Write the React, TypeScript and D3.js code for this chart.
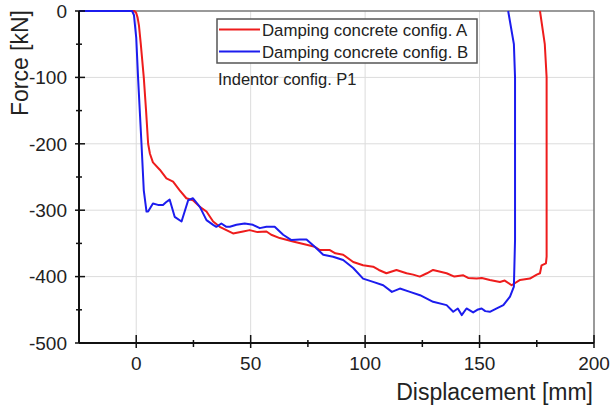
import React from "react";
import * as d3 from "d3";

const xTicks = [0, 50, 100, 150, 200];
const yTicks = [0, -100, -200, -300, -400, -500];
const xMinor = [-25, 25, 75, 125, 175];
const yMinor = [-50, -150, -250, -350, -450];

const seriesNames = ["Damping concrete config. A", "Damping concrete config. B"];

const dispA = [-25, -0.8, 0, 0.6, 1.2, 2, 3.3, 4.3, 5.2, 6, 7.3, 10.3, 13.2, 16.1, 19, 21.9, 24.8, 27.8, 30.7, 33.6, 36.5, 39.4, 42.3, 46.7, 49.6, 53, 56.9, 59, 62.7, 68.5, 74.4, 78, 80.2, 84.6, 87, 90.4, 94.8, 99.1, 103.5, 106, 109.3, 113.7, 118.1, 121, 123.9, 127, 129.7, 135.6, 139, 142.9, 145, 148.7, 151, 154.5, 158.9, 161, 164, 167.7, 172, 175, 176.4, 177.1, 179, 179.3, 179.3, 178.5, 176.4];
const forceA = [0, 0, -3, -10, -22, -50, -100, -150, -200, -215, -228, -239, -252, -257, -270, -282, -285, -295, -302, -317, -325, -330, -335, -332, -330, -333, -332, -337, -342, -347, -352, -355, -360, -360, -365, -367, -378, -383, -385, -390, -395, -390, -395, -397, -400, -395, -390, -395, -400, -398, -402, -403, -402, -405, -408, -406, -413, -405, -403, -397, -395, -383, -380, -370, -100, -50, 0];

const dispB = [-25, -1.8, -1, 0, 0.8, 2.3, 3.3, 4.5, 5.2, 7.3, 9.5, 11.7, 13, 14.6, 16.8, 19.8, 22.7, 24.8, 27.8, 30.7, 33.6, 35, 37.2, 39.4, 40.9, 43.8, 47.4, 51, 54, 56.9, 60.5, 64.2, 67.8, 71.5, 74.4, 78, 81.7, 86, 90.4, 94.8, 99.1, 103.5, 107.9, 111.7, 115.2, 119.6, 124, 129.7, 135.6, 138.5, 140.5, 142.2, 144.3, 147.2, 149, 150.9, 152.5, 154.5, 157.5, 160.4, 163.3, 165, 165.5, 165.5, 165, 162.5];
const forceB = [0, 0, -6, -40, -100, -200, -270, -302, -302, -290, -292, -292, -288, -284, -310, -317, -285, -282, -295, -315, -322, -325, -320, -325, -325, -322, -320, -322, -327, -325, -325, -337, -345, -344, -344, -355, -367, -370, -375, -387, -403, -408, -413, -423, -418, -423, -428, -438, -443, -453, -448, -458, -448, -454, -450, -448, -452, -453, -448, -443, -430, -415, -345, -100, -50, 0];

const colors = ["#ee1c1c", "#1c1cee"];

export default function App() {
  const W = 611, H = 409;
  const x = d3.scaleLinear().domain([-25, 200]).range([79, 594]);
  const y = d3.scaleLinear().domain([-500, 0]).range([343, 11]);
  const lineL = d3.line<[number, number]>().x(d => x(d[0])).y(d => y(d[1]));
  const A: [number, number][] = dispA.map((d, i) => [d, forceA[i]]);
  const B: [number, number][] = dispB.map((d, i) => [d, forceB[i]]);
  const font = "'Liberation Sans', Arial, sans-serif";
  const txt = "#222";
  return (
    <svg width={W} height={H} style={{ position: "absolute", left: 0, top: 0, background: "#fff" }} fontFamily={font}>
      <rect x={0} y={0} width={W} height={H} fill="#fff" />
      {xTicks.filter(t => t > -25 && t < 200).map(t => (
        <line key={"gx" + t} x1={x(t)} x2={x(t)} y1={y(0)} y2={y(-500)} stroke="#dcdcdc" strokeWidth={1} />
      ))}
      {yTicks.filter(t => t < 0 && t > -500).map(t => (
        <line key={"gy" + t} x1={x(-25)} x2={x(200)} y1={y(t)} y2={y(t)} stroke="#dcdcdc" strokeWidth={1} />
      ))}
      <line x1={x(-25)} x2={x(200)} y1={y(0)} y2={y(0)} stroke="#777" strokeWidth={1.5} />
      <line x1={x(200)} x2={x(200)} y1={y(0)} y2={y(-500)} stroke="#777" strokeWidth={1.5} />
      <path d={lineL(A) || ""} fill="none" stroke={colors[0]} strokeWidth={2} strokeLinejoin="round" />
      <path d={lineL(B) || ""} fill="none" stroke={colors[1]} strokeWidth={2} strokeLinejoin="round" />
      <line x1={x(-25)} x2={x(-25)} y1={y(0)} y2={y(-500)} stroke="#111" strokeWidth={2} />
      <line x1={x(-25)} x2={x(200)} y1={y(-500)} y2={y(-500)} stroke="#111" strokeWidth={2} />
      {yTicks.map(t => (
        <g key={"yt" + t}>
          <line x1={x(-25) - 4} x2={x(-25) + 6} y1={y(t)} y2={y(t)} stroke="#111" strokeWidth={1.5} />
          <text x={67} y={y(t)} dy="0.36em" textAnchor="end" fontSize={19} fill={txt}>{t}</text>
        </g>
      ))}
      {yMinor.map(t => (
        <line key={"ym" + t} x1={x(-25) - 3} x2={x(-25) + 3} y1={y(t)} y2={y(t)} stroke="#111" strokeWidth={1.5} />
      ))}
      {xTicks.map(t => (
        <g key={"xt" + t}>
          <line x1={x(t)} x2={x(t)} y1={y(-500) - 8} y2={y(-500) + 5} stroke="#111" strokeWidth={1.5} />
          <text x={x(t)} y={370} textAnchor="middle" fontSize={19} fill={txt}>{t}</text>
        </g>
      ))}
      {xMinor.filter(t => t > -25).map(t => (
        <line key={"xm" + t} x1={x(t)} x2={x(t)} y1={y(-500) - 3} y2={y(-500) + 4} stroke="#111" strokeWidth={1.5} />
      ))}
      <text x={593} y={400} textAnchor="end" fontSize={23} fill={txt}>Displacement [mm]</text>
      <text transform="translate(28,10) rotate(-90)" textAnchor="end" fontSize={23} fill={txt}>Force [kN]</text>
      <rect x={217} y={19} width={260} height={44} fill="#fff" stroke="#555" strokeWidth={1.5} />
      {seriesNames.map((n, i) => (
        <g key={n}>
          <line x1={219} x2={260} y1={29.5 + i * 22} y2={29.5 + i * 22} stroke={colors[i]} strokeWidth={2} />
          <text x={262} y={29.5 + i * 22} dy="0.36em" fontSize={16.8} fill={txt}>{n}</text>
        </g>
      ))}
      <text x={218} y={79} dy="0.36em" fontSize={16.5} fill={txt}>Indentor config. P1</text>
    </svg>
  );
}
